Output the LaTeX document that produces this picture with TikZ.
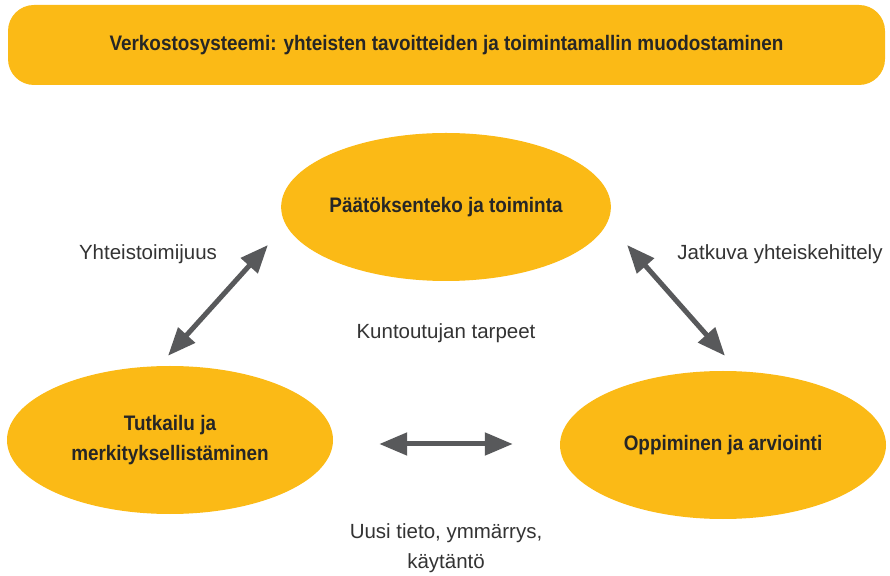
\documentclass[tikz,border=0pt]{standalone}
\usepackage{fontspec}
\setmainfont{Liberation Sans}
\newfontfamily\condensed{Liberation Sans}[FakeStretch=0.9]
\usetikzlibrary{arrows.meta,shapes.geometric,positioning}
\definecolor{gold}{RGB}{251,186,22}
\definecolor{arrowgray}{RGB}{88,89,91}
\tikzset{
	phase/.style={ellipse,fill=gold,minimum width=326pt,minimum height=148pt,inner sep=0pt,align=center,font=\condensed\fontsize{21}{30}\selectfont\bfseries,text=black!85},
	label/.style={align=center,font=\fontsize{20.5}{30}\selectfont,text=black!80},
	twoway/.style={arrowgray,line width=5pt,{Triangle[width=22pt,length=28pt]}-{Triangle[width=22pt,length=28pt]}}
}
\begin{document}
\begin{tikzpicture}[x=1pt,y=1pt]
	\useasboundingbox (0,0) rectangle (890,575);
	\node[fill=gold,rounded corners=26pt,minimum width=877pt,minimum height=80pt,font=\condensed\fontsize{21}{26}\selectfont\bfseries,text=black!85] (system) at (446.5,530) {Verkostosysteemi: yhteisten tavoitteiden ja toimintamallin muodostaminen};
	\node[phase] (decide) at (446,368) {Päätöksenteko ja toiminta};
	\node[phase] (explore) at (170,135) {Tutkailu ja\\ merkityksellistäminen};
	\node[phase] (learn) at (723,130) {Oppiminen ja arviointi};
	% arrow ends
	\coordinate (e1) at ([shift={(-2,10)}]explore.north);
	\coordinate (d1) at ([shift={(-13,-38)}]decide.west);
	\coordinate (d2) at ([shift={(16,-38)}]decide.east);
	\coordinate (l1) at ([shift={(2,15)}]learn.north);
	\coordinate (e2) at ([shift={(46,-4)}]explore.east);
	\coordinate (l2) at ([shift={(-47,1)}]learn.west);
	\draw[twoway] (e1) -- (d1);
	\draw[twoway] (d2) -- (l1);
	\draw[twoway] (e2) -- (l2);
	\node[label] (cooperation) at (148,321) {Yhteistoimijuus};
	\node[label] (development) at (780,321) {Jatkuva yhteiskehittely};
	\node[label] (needs) at (446,242) {Kuntoutujan tarpeet};
	\node[label] (knowledge) at (446,27) {Uusi tieto, ymmärrys,\\ käytäntö};
\end{tikzpicture}
\end{document}
